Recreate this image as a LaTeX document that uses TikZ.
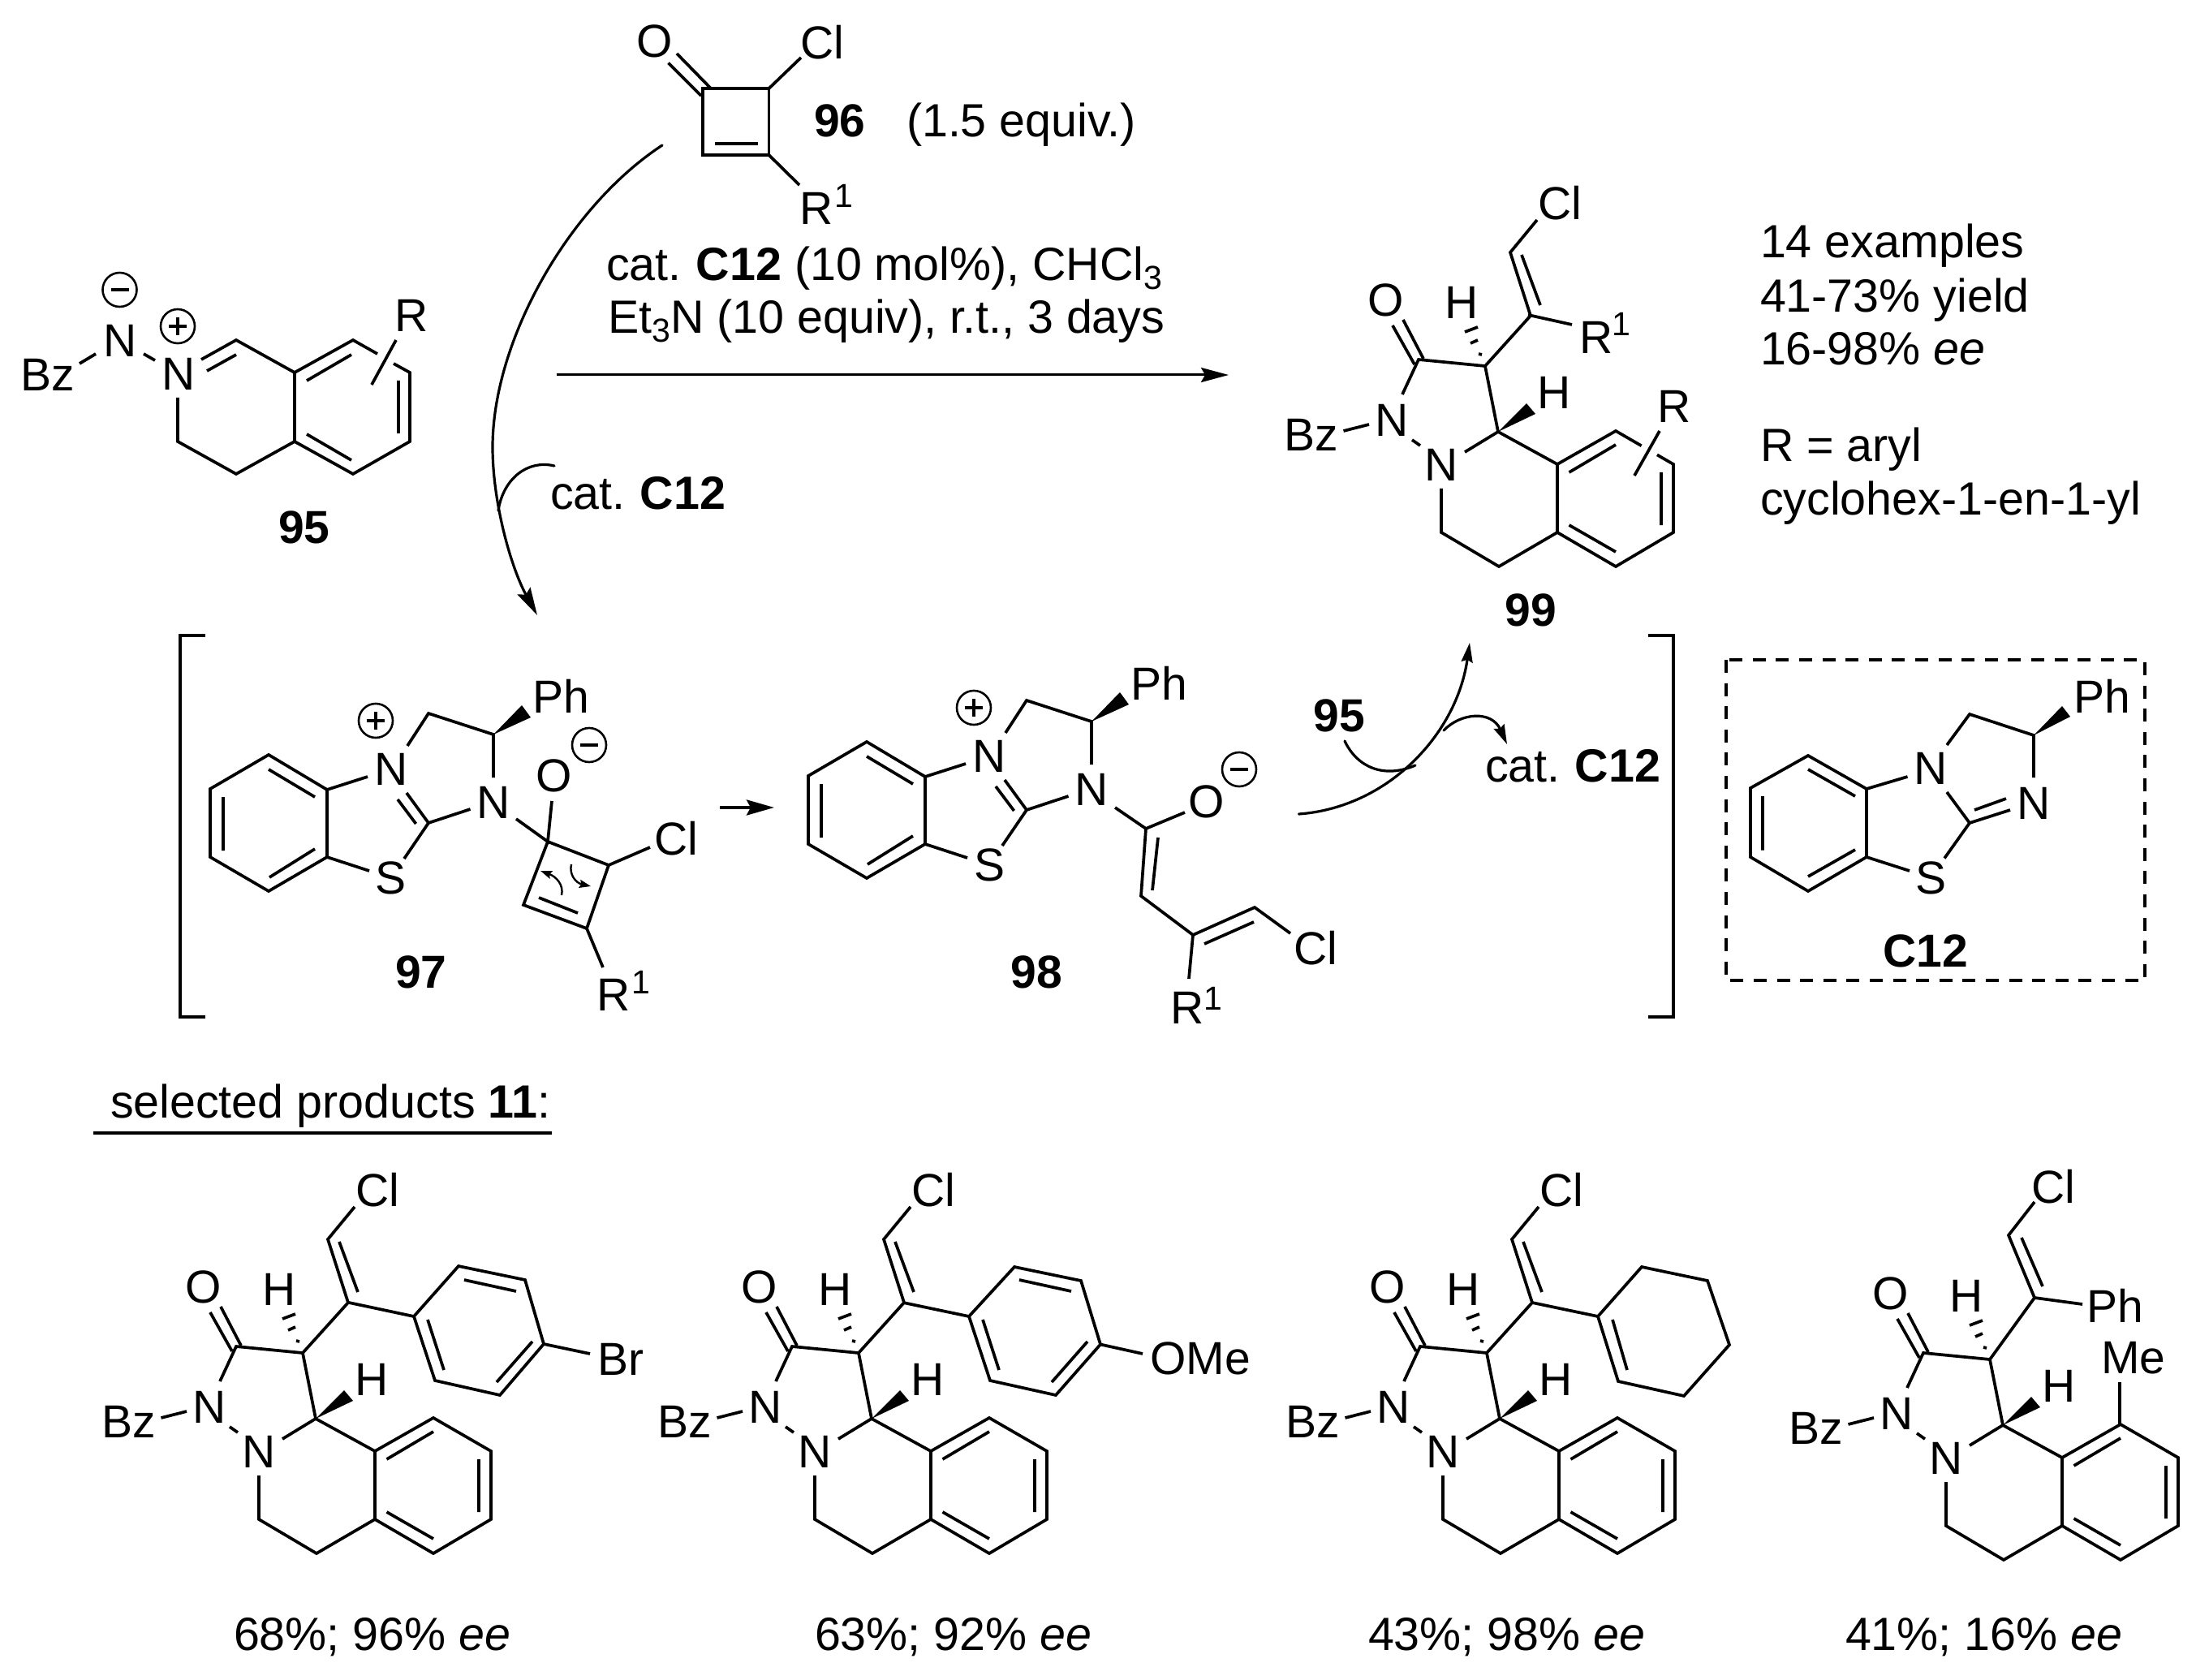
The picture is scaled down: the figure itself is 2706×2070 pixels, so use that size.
\documentclass[tikz,border=0pt]{standalone}
\usepackage{fontspec}
\setmainfont{Liberation Sans}
\usetikzlibrary{arrows.meta}
\newcounter{nid}
\newcommand\atm[2]{\stepcounter{nid}\node[atom] (a\arabic{nid}) at (#1) {#2};}
\newcommand\txt[2]{\stepcounter{nid}\node[label text] (t\arabic{nid}) at (#1) {#2};}
\newcommand\suprs[2]{\stepcounter{nid}\node[small digit] (s\arabic{nid}) at (#1) {#2};}
\newcommand\cmpd[2]{\stepcounter{nid}\node[atom,font=\bfseries\fontsize{28.5}{34}\selectfont] (c\arabic{nid}) at (#1) {#2};}
\newcommand\subd[1]{\raisebox{-5.5pt}{\fontsize{20.5}{24}\selectfont #1}}
% charges
\newcommand\chplus[2]{\begin{scope}[shift={(#1,#2)}]
  \draw[chargeline] (0,0) circle[radius=21];
  \draw[bond] (-11,0)--(11,0) (0,-11)--(0,11);
\end{scope}}
\newcommand\chminus[2]{\begin{scope}[shift={(#1,#2)}]
  \draw[chargeline] (0,0) circle[radius=21];
  \draw[bond] (-11,0)--(11,0);
\end{scope}}
% pyrazolidinone + tetrahydroisoquinoline core (3rd product coordinates)
\newcommand\prodcore[2]{\begin{scope}[shift={(#1,#2)}]
  \atm{1710,1586}{O}
  \atm{1803,1589}{H}
  \atm{1917,1700}{H}
  \atm{1717,1734}{N}
  \atm{1778,1789}{N}
  \atm{1618,1752}{Bz}
  \draw[bond] (1718,1617)--(1745,1665) (1731,1610)--(1756,1658);
  \draw[bond] (1730,1702)--(1750,1659)--(1832,1667)--(1848,1748)--(1807,1773);
  \draw[bond] (1824,1652)--(1828,1653) (1814,1639)--(1823,1635) (1807,1625)--(1823,1619);
  \fill (1848,1748)--(1883,1713)--(1894,1726)--cycle;
  \draw[bond] (1657.5,1747)--(1689,1739) (1742,1758)--(1752,1765);
  \draw[bond] (1778,1818)--(1778,1872)--(1849,1914)--(1921,1872)--(1921,1788)--(1848,1748);
  \draw[bond] (1921,1788)--(1993,1747)--(2064,1788)--(2064,1872)--(1993,1914)--(1921,1872);
  \draw[bond] (1935.5,1798)--(1993,1764) (2049,1798)--(2049,1863) (1935.5,1863)--(1993,1896);
\end{scope}}
\newcommand\vinyl[2]{\begin{scope}[shift={(#1,#2)}]
  \atm{1924,1466}{Cl}
  \draw[bond] (1832,1667)--(1888,1605)--(1863,1527)--(1896,1487);
  \draw[bond] (1877,1530)--(1900,1592);
\end{scope}}
% benzothiazolium + imidazoline (compound 97 coordinates)
\newcommand\btz[2]{\begin{scope}[shift={(#1,#2)}]
  \atm{482,948}{N}
  \atm{482,1082}{S}
  \atm{608,989}{N}
  \atm{691,858}{Ph}
  \chplus{463}{888}
  \draw[bond] (331,930)--(403,973)--(403,1056)--(331,1098)--(259,1056)--(259,972)--cycle;
  \draw[bond] (331,948)--(388,982) (275,982)--(275,1048) (332,1081)--(388,1046);
  \draw[bond] (403,973)--(453,957) (403,1056)--(455,1073);
  \draw[bond] (498,1058)--(528,1014)--(501,977) (490,985)--(512.5,1015) (528,1014)--(579.5,997);
  \draw[bond] (608,958)--(608,905)--(528,879)--(502,919);
  \fill (608,905)--(643,869)--(654,884)--cycle;
\end{scope}}
\tikzset{
  atom/.style={inner sep=0pt,outer sep=0pt,font=\fontsize{28.5}{34}\selectfont},
  label text/.style={inner sep=0pt,outer sep=0pt,anchor=base west,font=\fontsize{28.7}{34}\selectfont},
  small digit/.style={inner sep=0pt,outer sep=0pt,font=\fontsize{20.5}{24}\selectfont},
  bond/.style={line width=1.85pt,line cap=butt,line join=miter},
  chargeline/.style={line width=1.3pt},
  curve/.style={line width=1.6pt,line cap=round},
  mainhead/.style={-{Stealth[length=17pt,width=9pt,inset=2.5pt]}},
  smallhead/.style={-{Stealth[length=12pt,width=7pt,inset=1.5pt]}},
  tinyhead/.style={-{Stealth[length=7pt,width=5pt,inset=1pt]}},
}
\begin{document}
\begin{tikzpicture}[x=0.5pt,y=-0.5pt]
\useasboundingbox (0,0) rectangle (2706,2070);
% ---------- 95
\atm{59,462}{Bz}
\atm{148,420}{N}
\atm{220,461}{N}
\atm{507,389}{R}
\cmpd{375,650}{95}
\chminus{147.5}{357}
\chplus{219}{402}
\draw[bond] (98,448)--(118,436) (177,436)--(191,444);
\draw[bond] (248,443)--(291,419)--(363,459)--(435,419)--(465,436);
\draw[bond] (485,448)--(505,459)--(505,544)--(435,584)--(363,544)--(363,459);
\draw[bond] (363,544)--(291,584)--(219,544)--(219,490);
\draw[bond] (255,457)--(291,437) (378,469)--(433,437) (491,469)--(491,534) (378,535)--(433,567);
\draw[bond] (488,419)--(458,474);
% ---------- 96
\atm{807,51}{O}
\atm{1013,52}{Cl}
\atm{1006,257}{R}
\suprs{1040,241}{1}
\draw[bond] (866,109)--(947.5,109)--(947.5,191)--(866,191)--cycle;
\draw[bond] (881,177)--(934,177);
\draw[bond] (823.5,77.5)--(864,118) (834,66)--(876,109);
\draw[bond] (947.5,109)--(987,71) (947.5,191)--(985,228);
\stepcounter{nid}\node[label text,font=\bfseries\fontsize{28.5}{34}\selectfont] (n96) at (1003,169) {96};
\txt{1117,169}{(1.5 equiv.)}
% ---------- conditions
\txt{747,346}{cat.\hspace{-1.5pt} \textbf{C12} (10 mol\%), CHCl\subd{3}}
\txt{749,411}{Et\subd{3}N (10 equiv), r.t., 3 days}
\coordinate (arrS) at (686,462);
\coordinate (arrE) at (1514,462);
\draw[line width=1.5pt,mainhead] (arrS)--(arrE);
% ---------- long curved arrow from 96 to 97
\coordinate (c1) at (816,179);
\coordinate (c5) at (607,551);
\coordinate (c8) at (662,758);
\draw[curve,mainhead] (c1) .. controls (700,255) and (607,420) .. (c5) .. controls (607,620) and (630,700) .. (c8);
\coordinate (k1) at (683,574);
\coordinate (k2) at (614,629);
\draw[curve] (k1) .. controls (650,566) and (620,590) .. (k2);
\txt{678,628}{cat.\hspace{-1.5pt} \textbf{C12}}
% ---------- 99
\prodcore{-2}{-1216}
\vinyl{-2}{-1216}
\begin{scope}[shift={(-2,-1216)}]
  \draw[white,line width=6pt] (2025,1765)--(2044,1776);
\end{scope}
\draw[bond] (1883,388)--(1937,400);
\draw[bond] (2045,531)--(2014,586);
\atm{1967,416}{R}
\suprs{1998,399}{1}
\atm{2063,501}{R}
\cmpd{1886,752}{99}
% ---------- right text
\txt{2169,318}{14 examples}
\txt{2169,385}{41-73\% yield}
\txt{2169,450}{16-98\% \textit{ee}}
\txt{2169,569}{R = aryl}
\txt{2169,634}{cyclohex-1-en-1-yl}
% ---------- brackets
\draw[line width=2pt,line join=miter] (253,783)--(222,783)--(222,1253)--(253,1253);
\draw[line width=2pt,line join=miter] (2031,783)--(2062,783)--(2062,1253)--(2031,1253);
% ---------- 97
\btz{0}{0}
\atm{683,956}{O}
\chminus{726}{918}
\atm{833,1033}{Cl}
\atm{756,1226}{R}
\suprs{790,1210}{1}
\cmpd{519,1198}{97}
\draw[bond] (636,1009)--(675,1037)--(680,987);
\draw[bond] (675,1037)--(750,1066)--(723,1144)--(645,1115)--cycle;
\draw[bond] (664,1106)--(712,1125);
\draw[bond] (750,1066)--(801,1044) (723,1144)--(743,1192);
\coordinate (e1) at (692,1103);
\coordinate (e2) at (666,1073);
\coordinate (e3) at (704,1065);
\coordinate (e4) at (728,1092);
\draw[line width=1.2pt,tinyhead] (e1) .. controls (695,1090) and (685,1080) .. (e2);
\draw[line width=1.2pt,tinyhead] (e3) .. controls (701,1078) and (710,1088) .. (e4);
\coordinate (a1) at (887,995);
\coordinate (a2) at (954,995);
\draw[line width=2pt,-{Stealth[length=17pt,width=9.5pt,inset=2.5pt]}] (a1)--(a2);
% ---------- 98
\btz{737}{-16}
\atm{1487,988}{O}
\chminus{1527}{948}
\atm{1621,1168}{Cl}
\atm{1463,1242}{R}
\suprs{1495,1230}{1}
\cmpd{1277,1198}{98}
\draw[bond] (1374,995)--(1412,1021)--(1460,1001);
\draw[bond] (1412,1021)--(1406,1104)--(1470,1152)--(1546,1118)--(1590,1150);
\draw[bond] (1427,1032)--(1420,1097) (1484,1163)--(1545,1136) (1470,1152)--(1465,1206);
% ---------- arrow to 99
\coordinate (d1) at (1600.5,1003);
\coordinate (d6) at (1811,792);
\draw[curve,smallhead] (d1) .. controls (1710,995) and (1795,905) .. (d6);
\coordinate (f1) at (1657,913);
\coordinate (f2) at (1744,943);
\draw[curve] (f1) .. controls (1672,945) and (1705,960) .. (f2);
\coordinate (g1) at (1779,900);
\coordinate (g2) at (1857,917);
\draw[curve,smallhead] (g1) .. controls (1800,878) and (1838,875) .. (g2);
\cmpd{1650,882}{95}
\txt{1830,963}{cat.\hspace{-1.5pt} \textbf{C12}}
% ---------- C12
\draw[line width=1.8pt,dash pattern=on 8pt off 6.3pt] (2127,813) rectangle (2643,1208);
\atm{2379,947}{N}
\atm{2379,1082}{S}
\atm{2506,990}{N}
\atm{2590,858}{Ph}
\cmpd{2372.5,1172}{C12}
\draw[bond] (2228,931)--(2300,972)--(2300,1056)--(2228,1098)--(2157,1056)--(2157,971)--cycle;
\draw[bond] (2228,948)--(2286,981) (2172,981)--(2172,1047.5) (2228,1080)--(2286,1047);
\draw[bond] (2300,972)--(2350.5,957) (2300,1056)--(2353,1073);
\draw[bond] (2399,976)--(2427,1014)--(2396,1057.5);
\draw[bond] (2427,1014)--(2477,998) (2433,998)--(2472,984);
\draw[bond] (2506,958)--(2506,906)--(2427,880)--(2399,918);
\fill (2506,906)--(2541,870)--(2551,883)--cycle;
% ---------- selected products header
\txt{136,1377}{selected products \textbf{11}:}
\draw[line width=2.3pt] (115,1396)--(680,1396);
% ---------- product 1
\prodcore{-1459}{0}
\vinyl{-1459}{0}
\draw[bond] (430,1605)--(510,1622);
\draw[bond] (510,1622)--(565,1560)--(647,1577)--(670,1656)--(616,1719)--(536,1701)--cycle;
\draw[bond] (572,1577)--(636,1591) (656,1653)--(612,1703) (527,1626)--(547,1688);
\draw[bond] (670,1656)--(727,1668);
\atm{765,1674.5}{Br}
\txt{288,2033}{68\%; 96\% \textit{ee}}
% ---------- product 2
\prodcore{-774}{0}
\vinyl{-774}{0}
\draw[bond] (1113,1605)--(1194,1622);
\draw[bond] (1194,1622)--(1250,1561)--(1332,1578)--(1356,1656.5)--(1301,1719)--(1220,1701)--cycle;
\draw[bond] (1256,1577)--(1320,1591) (1340,1653)--(1296,1703) (1211,1626)--(1231,1688);
\draw[bond] (1356,1656.5)--(1408,1668);
\atm{1479,1674}{OMe}
\txt{1004,2033}{63\%; 92\% \textit{ee}}
% ---------- product 3
\prodcore{0}{0}
\vinyl{0}{0}
\draw[bond] (1888,1605)--(1969,1622);
\draw[bond] (1969,1622)--(1994,1702)--(2075,1720)--(2131,1657)--(2104,1578)--(2023,1561)--cycle;
\draw[bond] (1987,1626)--(2005,1688);
\txt{1686,2033}{43\%; 98\% \textit{ee}}
% ---------- product 4
\prodcore{620}{8}
\atm{2530,1462}{Cl}
\atm{2606,1609}{Ph}
\atm{2629,1673}{Me}
\draw[bond] (2452,1675)--(2507,1599)--(2475,1522)--(2507,1481);
\draw[bond] (2491,1525)--(2517,1585);
\draw[bond] (2507,1599)--(2566,1607);
\draw[bond] (2612,1756)--(2612,1703);
\txt{2274,2033}{41\%; 16\% \textit{ee}}
\end{tikzpicture}
\end{document}
